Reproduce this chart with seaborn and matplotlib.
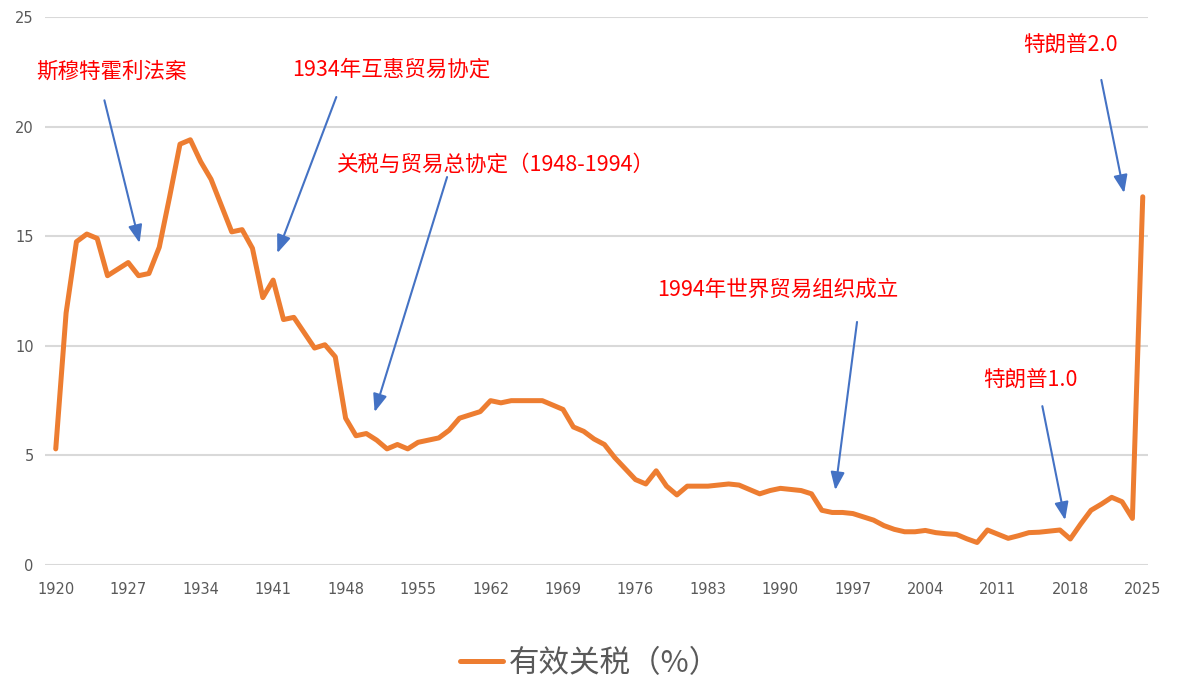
import matplotlib
matplotlib.use("Agg")
import matplotlib.pyplot as plt
import seaborn as sns
import pandas as pd

years = list(range(1920, 2026))
tariff = [
    5.3, 11.5, 14.75, 15.1, 14.9, 13.2, 13.5, 13.8, 13.2, 13.3,
    14.5, 16.8, 19.2, 19.4, 18.4, 17.6, 16.4, 15.2, 15.3, 14.45,
    12.2, 13.0, 11.2, 11.3, 10.6, 9.9, 10.05, 9.5, 6.7, 5.9,
    6.0, 5.7, 5.3, 5.5, 5.3, 5.6, 5.7, 5.8, 6.15, 6.7,
    6.85, 7.0, 7.5, 7.4, 7.5, 7.5, 7.5, 7.5, 7.3, 7.1,
    6.3, 6.1, 5.75, 5.5, 4.9, 4.4, 3.9, 3.7, 4.3, 3.6,
    3.2, 3.6, 3.6, 3.6, 3.65, 3.7, 3.65, 3.45, 3.25, 3.4,
    3.5, 3.45, 3.4, 3.25, 2.5, 2.4, 2.4, 2.35, 2.2, 2.05,
    1.8, 1.63, 1.52, 1.52, 1.58, 1.48, 1.43, 1.4, 1.2, 1.03,
    1.6, 1.41, 1.22, 1.34, 1.48, 1.5, 1.55, 1.6, 1.19, 1.87,
    2.5, 2.78, 3.09, 2.89, 2.13, 16.8,
]
xticks = [1920, 1927, 1934, 1941, 1948, 1955, 1962, 1969, 1976, 1983,
          1990, 1997, 2004, 2011, 2018, 2025]
yticks = [0, 5, 10, 15, 20, 25]
series_name = "有效关税（%）"

# annotations: label, text centre (x, y), arrow start, arrow tip (data coords)
ann_labels = ["斯穆特霍利法案", "1934年互惠贸易协定", "关税与贸易总协定（1948-1994）",
              "1994年世界贸易组织成立", "特朗普1.0", "特朗普2.0"]
ann_text_pos = [(1925.4, 22.5), (1952.4, 22.58), (1962.5, 18.25),
                (1989.7, 12.55), (2014.1, 8.44), (2018.0, 23.72)]
ann_arrow_start = [(1924.7, 21.2), (1947.1, 21.35), (1957.8, 17.7),
                   (1997.4, 11.09), (2015.3, 7.25), (2021.0, 22.13)]
ann_arrow_tip = [(1928.1, 14.69), (1941.4, 14.23), (1950.8, 6.98),
                 (1995.3, 3.42), (2017.5, 2.05), (2023.2, 16.97)]

df = pd.DataFrame({"year": years, "value": tariff})

sns.set_theme(style="white")
plt.rcParams['font.family'] = ['Noto Sans CJK SC', 'DejaVu Sans']

fig = plt.figure(figsize=(11.81, 6.80), dpi=100)
ax = fig.add_axes([0.038, 0.169, 0.934, 0.806])

sns.lineplot(data=df, x="year", y="value", ax=ax, color="#ED7D31",
             linewidth=3.6, label=series_name, legend=False)

ax.set_xlim(1918.95, 2025.5)
ax.set_ylim(0, 25)
ax.set_xticks(xticks)
ax.set_xticklabels([str(t) for t in xticks])
ax.set_yticks(yticks)
ax.set_yticklabels([str(t) for t in yticks])
ax.grid(axis="y", color="#D9D9D9", linewidth=1.5)
ax.grid(axis="x", visible=False)
ax.set_axisbelow(True)
for s in ax.spines.values():
    s.set_visible(False)
ax.tick_params(axis="both", length=0, labelsize=10.5, labelcolor="#595959")
ax.tick_params(axis="x", pad=12)
ax.tick_params(axis="y", pad=8)
for lab in ax.get_xticklabels() + ax.get_yticklabels():
    lab.set_family(['Liberation Sans Narrow', 'DejaVu Sans'])
ax.set_xlabel("")
ax.set_ylabel("")

for lab, tp, st, tip in zip(ann_labels, ann_text_pos, ann_arrow_start, ann_arrow_tip):
    ax.text(tp[0], tp[1], lab, color="#FF0000", fontsize=15.5, ha="center",
            va="center", family=['Noto Sans CJK SC', 'DejaVu Sans'])
    ax.annotate("", xy=tip, xytext=st,
                arrowprops=dict(arrowstyle="-|>,head_length=0.9,head_width=0.35",
                                color="#4472C4", lw=1.5, shrinkA=0, shrinkB=0))

handles, labels = ax.get_legend_handles_labels()
leg = fig.legend(handles, labels, loc="center", bbox_to_anchor=(0.5, 0.024),
                 frameon=False, fontsize=22, handlelength=1.4, handletextpad=0.2)
for t in leg.get_texts():
    t.set_color("#595959")

fig.savefig("out.png", dpi=100)
